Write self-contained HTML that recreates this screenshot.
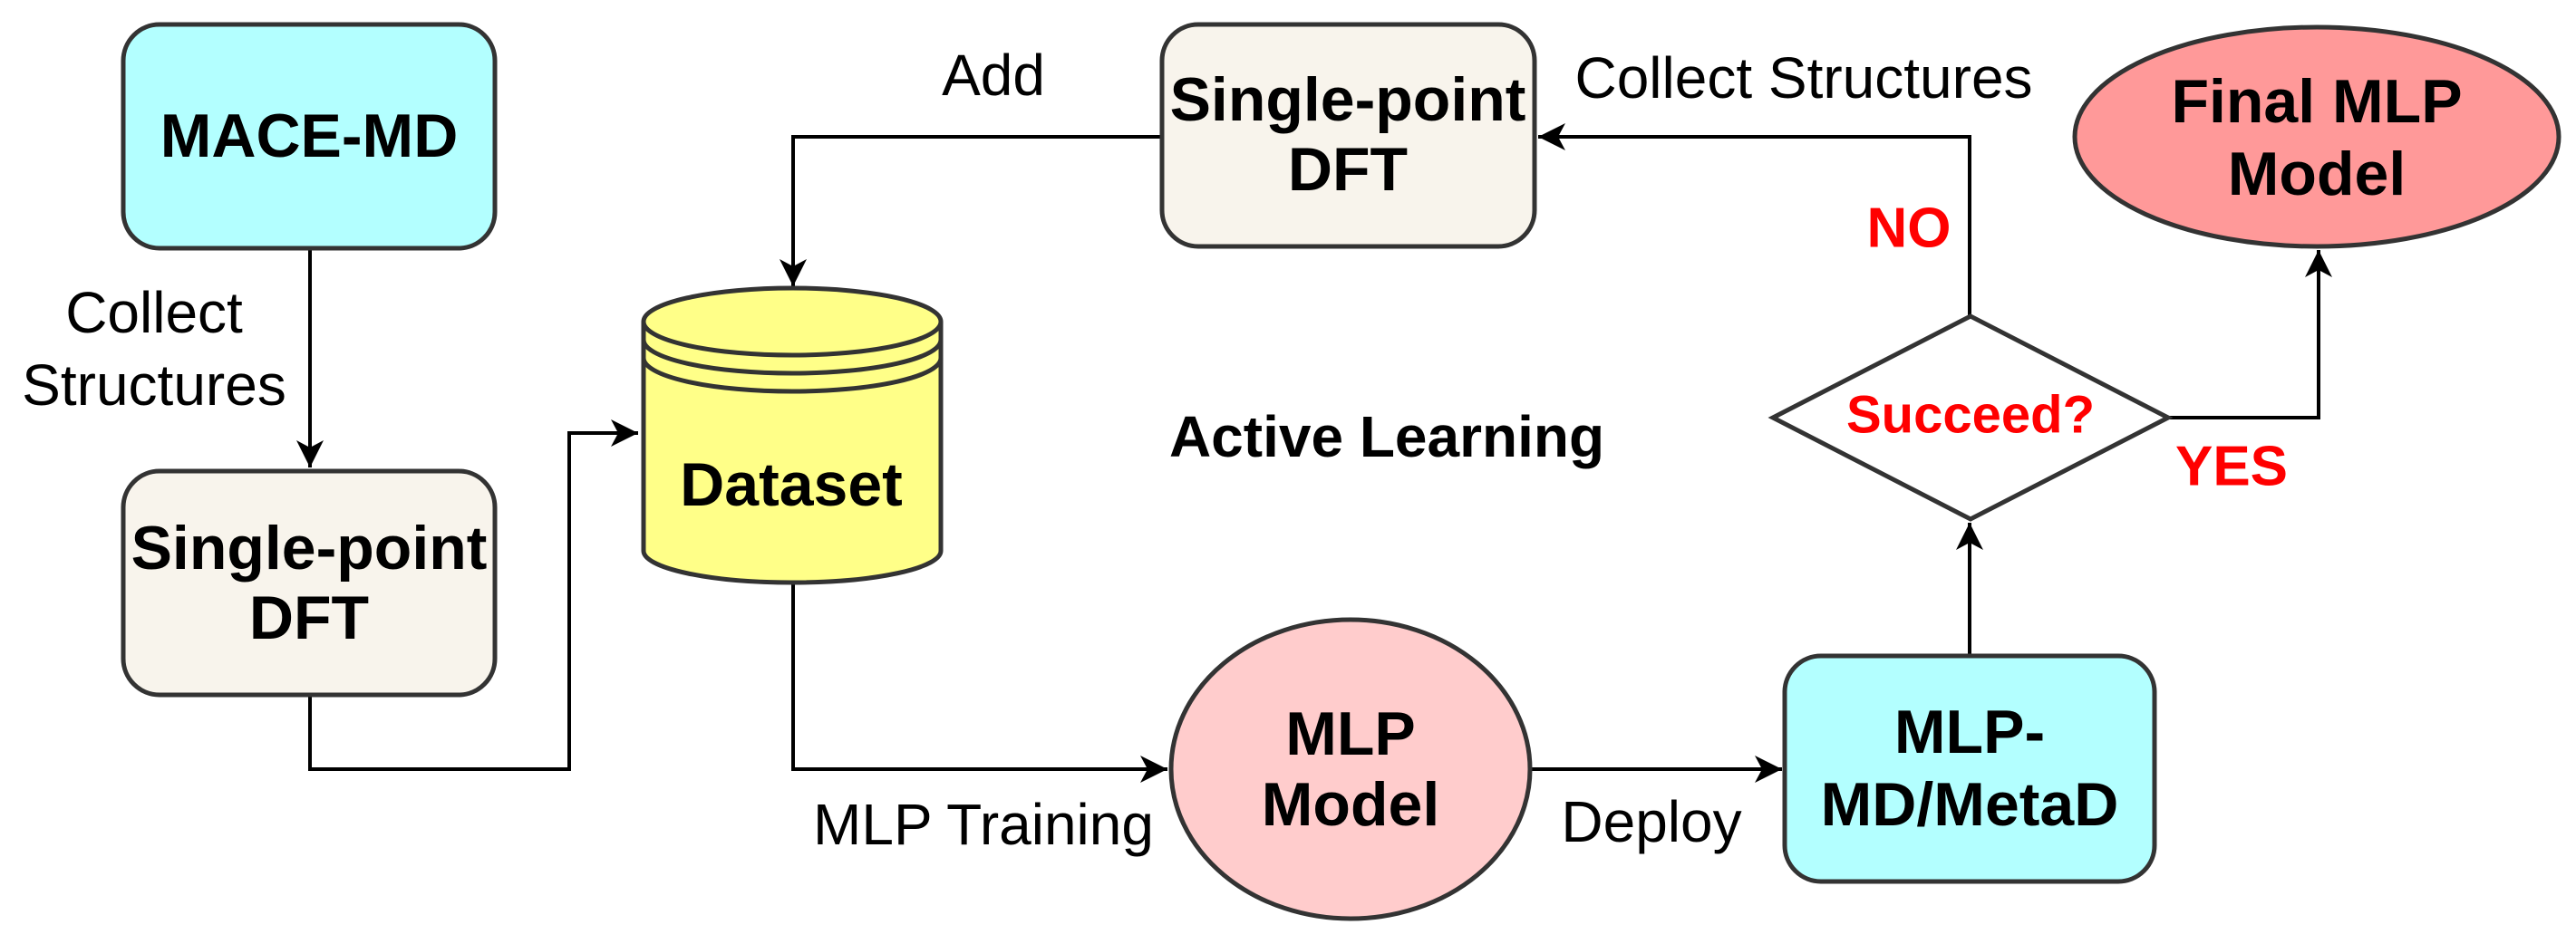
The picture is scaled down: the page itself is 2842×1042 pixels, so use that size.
<!DOCTYPE html>
<html><head><meta charset="utf-8"><style>
html,body{margin:0;padding:0;background:#fff;}
svg{display:block;}
text{font-family:"Liberation Sans",Arial,sans-serif;}
.b{font-weight:bold;font-size:68px;fill:#000;text-anchor:middle;dominant-baseline:central;}
.r{font-size:64px;fill:#000;dominant-baseline:central;}
.red{font-weight:bold;fill:#f00;dominant-baseline:central;}
</style></head><body>
<svg width="2842" height="1042" viewBox="0 0 2842 1042" xmlns="http://www.w3.org/2000/svg">
<defs>
<marker id="a" markerWidth="40" markerHeight="40" refX="30" refY="15" orient="auto" markerUnits="userSpaceOnUse">
<path d="M0,0 L30,15 L0,30 L8,15 Z" fill="#000"/>
</marker>
</defs>
<g stroke="#000" stroke-width="4" fill="none">
<path d="M342,274 V516" marker-end="url(#a)"/>
<path d="M342,767 V849 H628 V478 H704" marker-end="url(#a)"/>
<path d="M1282,151 H875 V316" marker-end="url(#a)"/>
<path d="M875,643 V849 H1288" marker-end="url(#a)"/>
<path d="M1688,849 H1966" marker-end="url(#a)"/>
<path d="M2173,724 V577" marker-end="url(#a)"/>
<path d="M2173,349 V151 H1697" marker-end="url(#a)"/>
<path d="M2392,461 H2558 V276" marker-end="url(#a)"/>
</g>
<g stroke="#333" stroke-width="5">
<rect x="136" y="27" width="410" height="247" rx="40" fill="#b3ffff"/>
<rect x="136" y="520" width="410" height="247" rx="40" fill="#f8f4ec"/>
<rect x="1282" y="27" width="411" height="245" rx="40" fill="#f8f4ec"/>
<rect x="1969" y="724" width="408" height="249" rx="40" fill="#b3ffff"/>
<ellipse cx="1490" cy="849" rx="198" ry="165" fill="#ffcccc"/>
<ellipse cx="2556" cy="151" rx="267" ry="121" fill="#ff9999"/>
<polygon points="1956,461 2174,349 2392,461 2174,573" fill="#fff"/>
<path d="M710,355 V608 A164,35 0 0 0 1038,608 V355 A164,37 0 0 0 710,355 Z" fill="#ffff88"/>
<path d="M710,355 A164,37 0 0 0 1038,355 M710,375 A164,37 0 0 0 1038,375 M710,395 A164,37 0 0 0 1038,395" fill="none"/>
</g>
<text class="b" x="341" y="150">MACE-MD</text>
<text class="b" x="341" y="605">Single-point</text>
<text class="b" x="341" y="682">DFT</text>
<text class="b" x="1487" y="110">Single-point</text>
<text class="b" x="1487" y="187">DFT</text>
<text class="b" x="873" y="535">Dataset</text>
<text class="b" x="1490" y="810">MLP</text>
<text class="b" x="1490" y="888">Model</text>
<text class="b" x="2173" y="808">MLP-</text>
<text class="b" x="2173" y="888">MD/MetaD</text>
<text class="b" x="2556" y="112">Final MLP</text>
<text class="b" x="2556" y="192">Model</text>
<text class="b" x="1530" y="482" style="font-size:64px">Active Learning</text>
<text class="r" x="170" y="345" text-anchor="middle">Collect</text>
<text class="r" x="170" y="425" text-anchor="middle">Structures</text>
<text class="r" x="1096" y="83" text-anchor="middle">Add</text>
<text class="r" x="1990" y="86" text-anchor="middle">Collect Structures</text>
<text class="r" x="1085" y="910" text-anchor="middle">MLP Training</text>
<text class="r" x="1822" y="907" text-anchor="middle">Deploy</text>
<text class="red" x="2174" y="458" text-anchor="middle" style="font-size:58px">Succeed?</text>
<text class="red" x="2106" y="252" text-anchor="middle" style="font-size:62px">NO</text>
<text class="red" x="2462" y="515" text-anchor="middle" style="font-size:62px">YES</text>
</svg>
</body></html>
